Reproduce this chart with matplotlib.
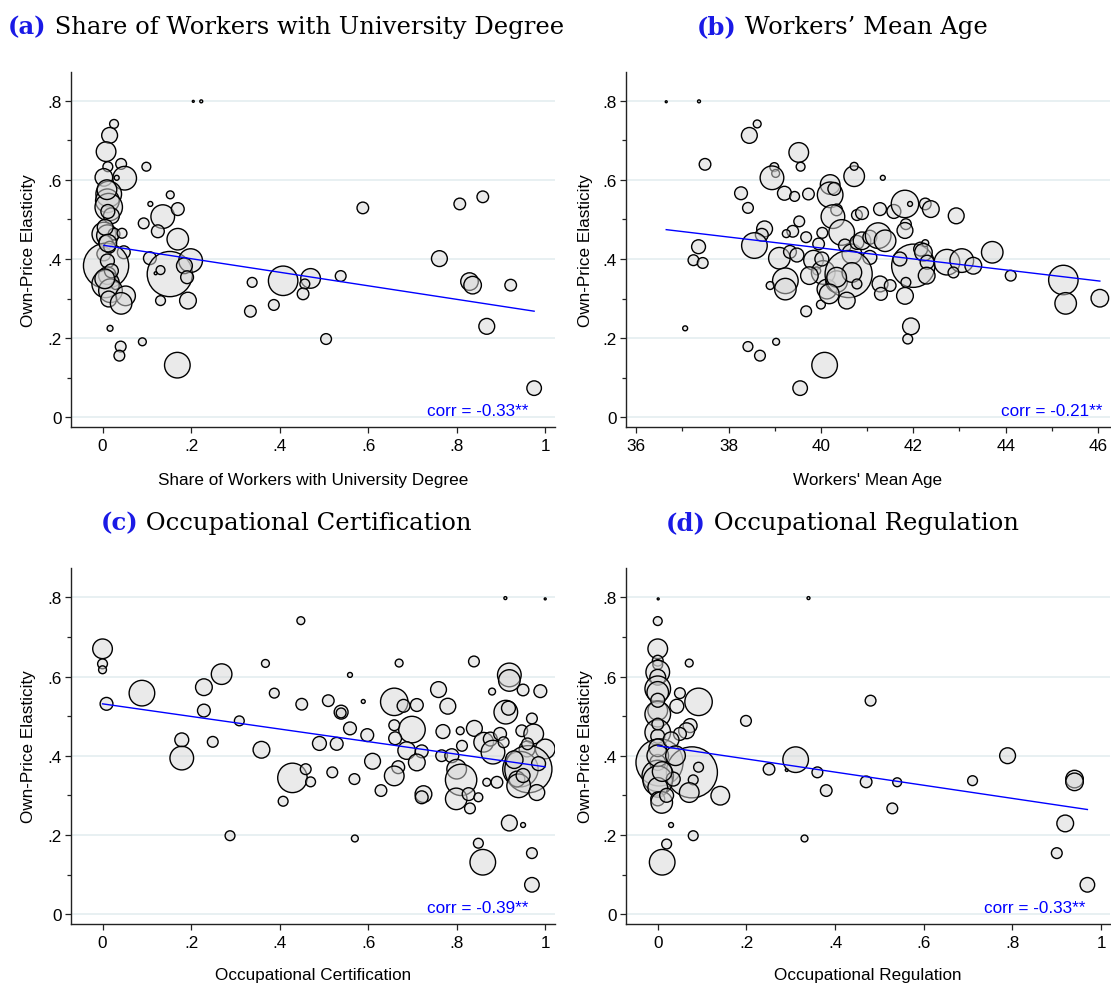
import numpy as np
import matplotlib
matplotlib.use("Agg")
import matplotlib.pyplot as plt
from matplotlib.ticker import MultipleLocator, FuncFormatter
from matplotlib.offsetbox import TextArea, HPacker, AnnotationBbox

plt.rcParams['font.family'] = ['Liberation Sans', 'DejaVu Sans']

# (a) share of workers with a university degree
univ_x = [0.588, 0.807, 0.859, 0.761, 0.829, 0.836, 0.922, 0.868, 0.975, 0.505, 0.538, 0.470, 0.457, 0.453, 0.408,
          0.387, 0.338, 0.334, 0.205, 0.223, 0.169, 0.090, 0.017, 0.041, 0.038, 0.099, 0.153, 0.108, 0.136, 0.170,
          0.093, 0.125, 0.170, 0.107, 0.152, 0.131, 0.120, 0.199, 0.185, 0.191, 0.193, 0.131, 0.026, 0.016, 0.008,
          0.012, 0.042, 0.050, 0.003, 0.032, 0.014, 0.011, 0.014, 0.020, 0.003, 0.011, 0.026, 0.044, 0.007, 0.003,
          0.048, 0.008, 0.011, 0.011, 0.007, 0.029, 0.018, 0.052, 0.014, 0.042, 0.010, 0.012, 0.016, 0.006, 0.020,
          0.005, 0.012]
univ_y = [0.529, 0.539, 0.557, 0.401, 0.343, 0.334, 0.334, 0.230, 0.074, 0.198, 0.357, 0.351, 0.337, 0.312, 0.345,
          0.284, 0.341, 0.268, 0.798, 0.798, 0.132, 0.191, 0.225, 0.179, 0.156, 0.633, 0.562, 0.539, 0.507, 0.526,
          0.490, 0.470, 0.450, 0.402, 0.362, 0.372, 0.364, 0.396, 0.383, 0.354, 0.295, 0.295, 0.741, 0.712, 0.671,
          0.633, 0.640, 0.604, 0.606, 0.605, 0.564, 0.547, 0.531, 0.509, 0.463, 0.459, 0.463, 0.465, 0.442, 0.413,
          0.417, 0.383, 0.395, 0.358, 0.337, 0.333, 0.320, 0.307, 0.299, 0.288, 0.575, 0.520, 0.430, 0.480, 0.370,
          0.350, 0.440]
univ_w = [14, 14, 14, 26, 32, 32, 14, 26, 22, 12, 12, 40, 10, 14, 90, 12, 10, 14, 0.4, 0.9, 68, 6.4, 3.6, 12, 12,
          8.1, 6.4, 2.5, 58, 17, 12, 17, 48, 17, 212, 8.1, 0.9, 58, 26, 17, 29, 10, 8.1, 26, 40, 10, 12, 58, 32, 2.5,
          68, 58, 78, 26, 58, 48, 14, 10, 20, 20, 17, 212, 20, 32, 78, 6.4, 58, 40, 26, 48, 40, 20, 14, 26, 20, 40, 32]

# (b) workers' mean age
age_x = [36.65, 37.36, 38.62, 38.45, 39.52, 39.56, 37.49, 38.99, 39.02, 38.94, 38.27, 38.42, 39.21, 39.43, 39.73,
         40.20, 40.20, 40.29, 40.34, 40.26, 39.53, 39.39, 39.25, 38.78, 38.72, 38.56, 39.68, 40.03, 37.35, 37.24,
         37.44, 39.10, 39.33, 39.48, 39.84, 39.91, 40.05, 39.75, 39.23, 39.23, 38.90, 39.68, 40.00, 37.06, 39.03,
         38.42, 38.68, 40.08, 39.55, 40.13, 40.34, 40.72, 40.72, 41.34, 40.45, 40.78, 40.89, 41.28, 41.58, 41.82,
         41.93, 42.26, 42.38, 42.93, 41.84, 41.82, 39.95, 40.02, 40.52, 40.67, 40.78, 40.89, 41.06, 41.24, 41.39,
         41.06, 40.60, 40.67, 40.34, 40.18, 40.56, 40.78, 41.28, 41.30, 41.50, 42.00, 41.84, 41.82, 41.71, 42.16,
         42.26, 42.22, 42.30, 42.29, 42.73, 43.05, 43.30, 42.87, 43.71, 44.11, 41.95, 41.88, 45.25, 45.30, 46.04]
age_y = [0.797, 0.798, 0.741, 0.712, 0.669, 0.633, 0.639, 0.632, 0.616, 0.605, 0.566, 0.529, 0.566, 0.558, 0.564,
         0.588, 0.562, 0.577, 0.524, 0.507, 0.495, 0.470, 0.464, 0.476, 0.461, 0.434, 0.455, 0.466, 0.431, 0.397,
         0.390, 0.402, 0.418, 0.410, 0.397, 0.370, 0.366, 0.358, 0.345, 0.324, 0.333, 0.268, 0.285, 0.225, 0.191,
         0.179, 0.156, 0.132, 0.074, 0.324, 0.343, 0.609, 0.634, 0.605, 0.467, 0.511, 0.516, 0.526, 0.520, 0.539,
         0.539, 0.539, 0.526, 0.509, 0.488, 0.472, 0.438, 0.400, 0.434, 0.413, 0.442, 0.446, 0.455, 0.459, 0.446,
         0.404, 0.362, 0.366, 0.354, 0.312, 0.295, 0.337, 0.337, 0.312, 0.333, 0.383, 0.341, 0.307, 0.400, 0.425,
         0.440, 0.417, 0.392, 0.358, 0.392, 0.396, 0.383, 0.366, 0.417, 0.358, 0.230, 0.198, 0.347, 0.288, 0.301]
age_w = [0.4, 0.9, 6.4, 26, 40, 8.1, 14, 8.1, 6.4, 58, 17, 12, 20, 10, 14, 40, 68, 17, 14, 58, 12, 14, 6.4, 26, 17,
         68, 12, 12, 20, 12, 12, 48, 17, 20, 40, 6.4, 58, 32, 68, 48, 6.4, 12, 8.1, 2.5, 4.9, 10, 12, 68, 22, 40,
         48, 44, 6.4, 2.5, 68, 12, 17, 17, 20, 78, 2.5, 14, 29, 26, 12, 26, 14, 20, 17, 40, 20, 32, 20, 68, 48,
         20, 230, 40, 40, 40, 29, 10, 26, 17, 14, 194, 10, 29, 20, 20, 4.9, 32, 20, 29, 68, 58, 29, 12, 48, 12,
         29, 10, 90, 48, 32]

# (c) occupational certification
cert_x = [0.000, 0.000, 0.000, 0.009, 0.089, 0.229, 0.269, 0.229, 0.309, 0.179, 0.179, 0.249, 0.359, 0.368, 0.388,
          0.288, 0.448, 0.450, 0.429, 0.459, 0.470, 0.408, 0.490, 0.529, 0.510, 0.539, 0.539, 0.559, 0.589, 0.559,
          0.598, 0.610, 0.519, 0.569, 0.629, 0.570, 0.659, 0.680, 0.710, 0.670, 0.699, 0.659, 0.661, 0.687, 0.721,
          0.710, 0.668, 0.659, 0.725, 0.721, 0.759, 0.780, 0.769, 0.839, 0.808, 0.840, 0.766, 0.789, 0.812, 0.800,
          0.810, 0.799, 0.827, 0.830, 0.849, 0.868, 0.891, 0.861, 0.876, 0.898, 0.882, 0.906, 0.911, 0.917, 0.880,
          0.919, 0.919, 0.950, 0.989, 0.970, 0.947, 0.974, 1.000, 0.959, 0.944, 0.962, 0.936, 0.940, 0.981, 0.919,
          0.950, 0.849, 0.859, 0.970, 0.970, 0.910, 1.000, 0.930, 0.950, 0.960, 0.985]
cert_y = [0.670, 0.632, 0.617, 0.531, 0.558, 0.573, 0.606, 0.514, 0.488, 0.440, 0.394, 0.435, 0.415, 0.633, 0.558,
          0.198, 0.741, 0.530, 0.344, 0.366, 0.334, 0.285, 0.431, 0.430, 0.539, 0.510, 0.508, 0.604, 0.537, 0.469,
          0.452, 0.386, 0.358, 0.341, 0.312, 0.191, 0.536, 0.526, 0.528, 0.634, 0.466, 0.477, 0.444, 0.413, 0.411,
          0.383, 0.371, 0.349, 0.303, 0.295, 0.567, 0.525, 0.461, 0.638, 0.463, 0.469, 0.400, 0.400, 0.425, 0.366,
          0.339, 0.291, 0.303, 0.267, 0.295, 0.333, 0.333, 0.434, 0.442, 0.455, 0.409, 0.434, 0.510, 0.520, 0.562,
          0.604, 0.590, 0.566, 0.563, 0.494, 0.463, 0.455, 0.417, 0.417, 0.366, 0.366, 0.341, 0.324, 0.307, 0.230,
          0.225, 0.179, 0.131, 0.154, 0.074, 0.798, 0.796, 0.390, 0.350, 0.430, 0.380]
cert_w = [40, 10, 6.4, 17, 68, 29, 44, 17, 10, 20, 58, 12, 29, 6.4, 10, 10, 6.4, 14, 90, 12, 10, 10, 20, 17, 14,
          20, 10, 2.5, 1.6, 17, 17, 26, 12, 12, 14, 4.9, 78, 17, 17, 6.4, 73, 12, 17, 32, 17, 29, 17, 40, 29, 17,
          26, 26, 20, 12, 6.4, 26, 14, 20, 12, 40, 102, 48, 17, 12, 8.1, 6.4, 14, 40, 20, 17, 58, 12, 58, 20, 4.9,
          58, 48, 14, 17, 12, 14, 40, 40, 26, 130, 230, 26, 58, 26, 26, 2.5, 10, 68, 12, 22, 0.9, 0.4, 32, 20, 14, 20]

# (d) occupational regulation
reg_x = [0.001, 0.000, 0.000, 0.000, 0.000, 0.071, 0.000, 0.000, 0.000, 0.000, 0.050, 0.092, 0.043, 0.000, 0.000,
         0.000, 0.000, 0.073, 0.065, 0.050, 0.004, 0.077, 0.000, 0.000, 0.000, 0.000, 0.035, 0.092, 0.080, 0.071,
         0.141, 0.000, 0.009, 0.030, 0.080, 0.020, 0.010, 0.199, 0.340, 0.251, 0.291, 0.311, 0.360, 0.380, 0.331,
         0.480, 0.470, 0.540, 0.529, 0.710, 0.789, 0.940, 0.940, 0.919, 0.900, 0.969, 0.000, 0.000, 0.010, 0.030,
         0.040, 0.020, 0.000, 0.000]
reg_y = [0.796, 0.740, 0.670, 0.640, 0.630, 0.634, 0.611, 0.598, 0.569, 0.560, 0.558, 0.536, 0.525, 0.514, 0.505,
         0.459, 0.449, 0.476, 0.463, 0.455, 0.383, 0.358, 0.383, 0.349, 0.337, 0.320, 0.341, 0.371, 0.339, 0.307,
         0.299, 0.291, 0.282, 0.225, 0.198, 0.177, 0.131, 0.488, 0.798, 0.366, 0.364, 0.390, 0.358, 0.312, 0.191,
         0.539, 0.334, 0.333, 0.267, 0.337, 0.400, 0.341, 0.334, 0.229, 0.154, 0.074, 0.420, 0.400, 0.360, 0.440,
         0.400, 0.300, 0.540, 0.480]
reg_w = [0.4, 8.1, 40, 12, 10, 6.4, 58, 26, 68, 48, 12, 78, 20, 40, 68, 68, 20, 20, 26, 17, 230, 270, 26, 102, 90,
         40, 20, 10, 10, 40, 36, 20, 48, 2.5, 10, 10, 68, 12, 0.9, 14, 0.9, 68, 12, 14, 4.9, 12, 14, 8.1, 12, 10,
         26, 32, 32, 29, 12, 22, 32, 48, 40, 26, 40, 20, 20, 14]

# weighted linear fits (intercept, slope) and correlations
fits = [(0.435, -0.171), (0.981, -0.01383), (0.531, -0.159), (0.425, -0.166)]
corrs = ['-0.33**', '-0.21**', '-0.39**', '-0.33**']

panels = [
    ('(a)', 'Share of Workers with University Degree', 'Share of Workers with University Degree',
     univ_x, univ_y, univ_w),
    ('(b)', 'Workers\u2019 Mean Age', "Workers' Mean Age", age_x, age_y, age_w),
    ('(c)', 'Occupational Certification', 'Occupational Certification', cert_x, cert_y, cert_w),
    ('(d)', 'Occupational Regulation', 'Occupational Regulation', reg_x, reg_y, reg_w),
]

rects = [[0.0636, 0.5664, 0.4359, 0.3596], [0.5635, 0.5664, 0.4356, 0.3596],
         [0.0636, 0.0628, 0.4359, 0.3607], [0.5635, 0.0628, 0.4356, 0.3607]]
xlims = [(-0.072, 1.022), (35.78, 46.26), (-0.072, 1.022), (-0.0715, 1.02)]
ylims = [(-0.024, 0.872), (-0.024, 0.872), (-0.025, 0.874), (-0.025, 0.874)]
corr_pos = [(0.962, 0.018), (46.09, 0.018), (0.962, 0.017), (0.964, 0.017)]
title_pos = [(0.2574, 0.9726), (0.7579, 0.9726), (0.2574, 0.4701), (0.7579, 0.4701)]
ylabel_x = [-0.072, -0.068, -0.072, -0.068]
xlabel_y = [-0.128, -0.128, -0.122, -0.122]

BLUE = '#1a1ae6'
SPINE = '#222222'
FS = 12.3


def short_num(v, pos):
    if abs(v) < 1e-9:
        return '0'
    if abs(v - round(v)) < 1e-9:
        return '%d' % round(v)
    return ('%.1f' % v).lstrip('0')


fig = plt.figure(figsize=(11.11, 9.87), dpi=100)

for i, (tag, title, xlab, xs, ys, ws) in enumerate(panels):
    assert len(xs) == len(ys) == len(ws), xlab
    xs, ys, ws = np.array(xs), np.array(ys), np.array(ws)
    ax = fig.add_axes(rects[i])

    ax.scatter(xs, ys, s=ws * 5.0, facecolor=(0.84, 0.84, 0.84, 0.5),
               edgecolor='black', linewidth=1.0, zorder=3)

    b0, b1 = fits[i]
    xx = np.array([xs.min(), xs.max()])
    ax.plot(xx, b0 + b1 * xx, color='#0000ff', lw=1.0, zorder=4)

    cx, cy = corr_pos[i]
    ax.text(cx, cy, 'corr = ' + corrs[i], color='#0000ff', ha='right', va='center',
            fontsize=FS, zorder=5)

    ax.set_xlim(*xlims[i])
    ax.set_ylim(*ylims[i])
    ax.yaxis.set_major_locator(MultipleLocator(0.2))
    ax.yaxis.set_minor_locator(MultipleLocator(0.1))
    if i == 1:
        ax.xaxis.set_major_locator(MultipleLocator(2))
        ax.xaxis.set_minor_locator(MultipleLocator(1))
    else:
        ax.xaxis.set_major_locator(MultipleLocator(0.2))
    ax.xaxis.set_major_formatter(FuncFormatter(short_num))
    ax.yaxis.set_major_formatter(FuncFormatter(short_num))

    for side in ['top', 'right']:
        ax.spines[side].set_visible(False)
    for side in ['left', 'bottom']:
        ax.spines[side].set_color(SPINE)
        ax.spines[side].set_linewidth(1.0)
    ax.tick_params(which='major', length=4.5, width=0.9, color=SPINE, labelsize=FS)
    ax.tick_params(which='minor', length=2.8, width=0.9, color=SPINE)
    ax.tick_params(axis='y', pad=2)
    ax.tick_params(axis='x', pad=3.5)

    ax.yaxis.grid(True, color='#e6eff1', lw=1.3)
    ax.set_axisbelow(True)

    ax.set_ylabel('Own-Price Elasticity', fontsize=FS)
    ax.yaxis.set_label_coords(ylabel_x[i], 0.5)
    ax.set_xlabel(xlab, fontsize=FS)
    ax.xaxis.set_label_coords(0.5, xlabel_y[i])

    # panel title: bold blue tag followed by the variable name
    tag_area = TextArea(tag, textprops=dict(family='DejaVu Serif', weight='bold',
                                            color=BLUE, fontsize=17.5))
    name_area = TextArea(' ' + title, textprops=dict(family='DejaVu Serif', color='black',
                                                     fontsize=17.5))
    box = HPacker(children=[tag_area, name_area], align='baseline', pad=0, sep=0)
    ab = AnnotationBbox(box, title_pos[i], xycoords='figure fraction', frameon=False,
                        box_alignment=(0.5, 0.5), pad=0)
    fig.add_artist(ab)

fig.savefig('out.png', dpi=100)
